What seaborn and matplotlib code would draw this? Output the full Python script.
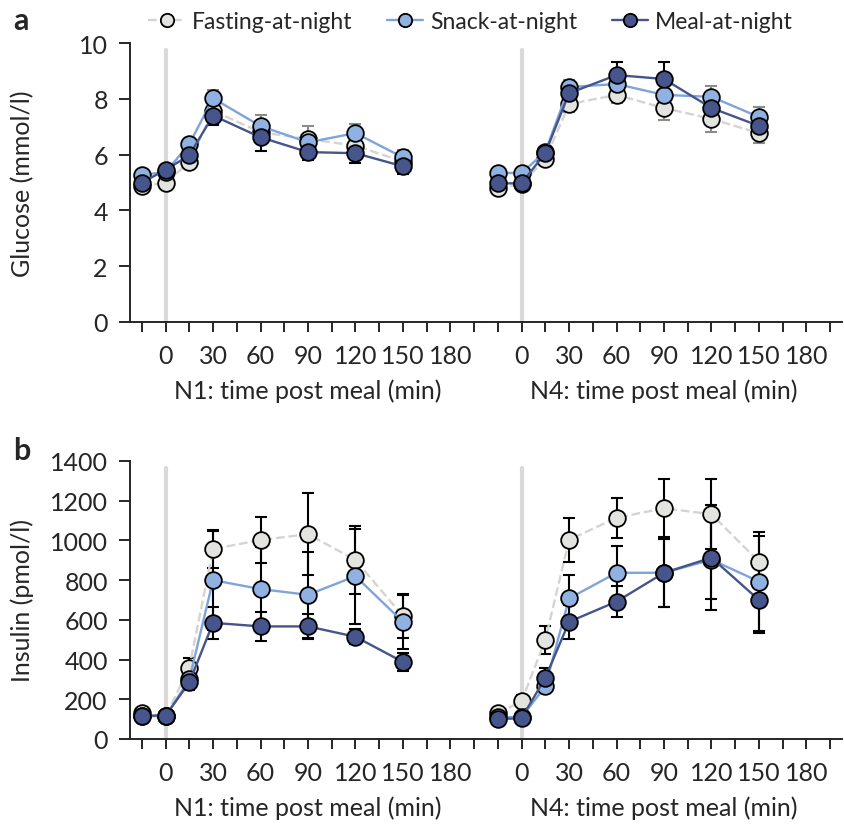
import numpy as np
import pandas as pd
import matplotlib
matplotlib.use('Agg')
from matplotlib import pyplot as plt
import seaborn as sns

# Zaman noktaları (dk)
time_points = [-15, 0, 15, 30, 60, 90, 120, 150]
group_names = ['Fasting-at-night', 'Snack-at-night', 'Meal-at-night']

# Glukoz (mmol/l) - N1
glc_n1_fasting = [4.87, 5.0, 5.73, 7.57, 6.8, 6.56, 6.32, 5.75]
glc_n1_snack = [5.28, 5.37, 6.38, 8.02, 7.02, 6.44, 6.77, 5.9]
glc_n1_meal = [5.0, 5.45, 5.98, 7.4, 6.62, 6.09, 6.05, 5.58]
glc_n1_fasting_sem = [0.1, 0.1, 0.15, 0.3, 0.3, 0.45, 0.35, 0.3]
glc_n1_snack_sem = [0.1, 0.1, 0.15, 0.28, 0.4, 0.3, 0.33, 0.25]
glc_n1_meal_sem = [0.1, 0.1, 0.15, 0.35, 0.48, 0.27, 0.35, 0.28]

# Glukoz (mmol/l) - N4
glc_n4_fasting = [4.8, 4.95, 5.84, 7.81, 8.14, 7.67, 7.28, 6.77]
glc_n4_snack = [5.34, 5.34, 6.1, 8.42, 8.53, 8.14, 8.07, 7.35]
glc_n4_meal = [4.97, 4.97, 6.06, 8.2, 8.85, 8.71, 7.67, 7.03]
glc_n4_fasting_sem = [0.1, 0.1, 0.15, 0.3, 0.3, 0.43, 0.48, 0.36]
glc_n4_snack_sem = [0.1, 0.1, 0.15, 0.25, 0.3, 0.35, 0.4, 0.36]
glc_n4_meal_sem = [0.1, 0.1, 0.15, 0.3, 0.47, 0.6, 0.4, 0.3]

# İnsülin (pmol/l) - N1
ins_n1_fasting = [130, 115, 360, 957, 1002, 1032, 901, 619]
ins_n1_snack = [115, 115, 300, 800, 755, 726, 820, 590]
ins_n1_meal = [118, 118, 285, 585, 567, 567, 515, 388]
ins_n1_fasting_sem = [15, 12, 50, 95, 116, 207, 170, 110]
ins_n1_snack_sem = [12, 12, 40, 250, 210, 215, 240, 136]
ins_n1_meal_sem = [12, 12, 40, 80, 72, 65, 37, 45]

# İnsülin (pmol/l) - N4
ins_n4_fasting = [130, 190, 500, 1003, 1114, 1162, 1132, 893]
ins_n4_snack = [110, 110, 265, 708, 837, 837, 903, 793]
ins_n4_meal = [100, 105, 308, 590, 692, 837, 913, 700]
ins_n4_fasting_sem = [15, 30, 70, 110, 100, 147, 177, 130]
ins_n4_snack_sem = [10, 10, 35, 117, 136, 170, 200, 248]
ins_n4_meal_sem = [10, 10, 49, 87, 80, 170, 263, 167]

x_ticks = list(range(-15, 200, 15))
x_labels = ['' if (t < 0 or t % 30) else str(t) for t in x_ticks]

line_colors = ['#d4d4d0', '#7ea4da', '#45558a']
fill_colors = ['#e3e3df', '#8fb2e2', '#46568c']
line_styles = ['--', '-', '-']

sns.set_style('white')
plt.rcParams['font.family'] = ['Lato', 'DejaVu Sans']
plt.rcParams['font.size'] = 18

fig = plt.figure(figsize=(8.45, 8.28), dpi=100)
left, mid, right = 130 / 845, 486 / 845, 842 / 845
rows = [(1 - 323 / 828, 1 - 44 / 828), (1 - 740 / 828, 1 - 462 / 828)]


def draw_panel(ax, means, sems, ecolors):
    for i in range(3):
        ax.errorbar(time_points, means[i], yerr=sems[i], fmt='none', ecolor=ecolors[i],
                    elinewidth=1.5, capsize=4, capthick=1.5, zorder=2)
    for i in range(3):
        sns.lineplot(x=time_points, y=means[i], ax=ax, color=line_colors[i], linestyle=line_styles[i],
                     linewidth=1.7, marker='o', markersize=12, markerfacecolor=fill_colors[i],
                     markeredgecolor='black', markeredgewidth=1.3, errorbar=None,
                     label=group_names[i], zorder=3 + i)
    ax.axvline(0, ymin=0, ymax=0.975, color='#d9d9d9', linewidth=3, zorder=1)
    ax.set_xlim(-22.5, 202.5)
    ax.set_xticks(x_ticks)
    ax.set_xticklabels(x_labels)
    ax.tick_params(axis='x', direction='out', length=7, width=1.4, pad=9, bottom=True, labelsize=18)
    sns.despine(ax=ax, top=True, right=True)
    ax.spines['bottom'].set_linewidth(1.4)
    ax.spines['left'].set_linewidth(1.4)
    ax.legend().remove()


panels = [
    (rows[0], [glc_n1_fasting, glc_n1_snack, glc_n1_meal], [glc_n1_fasting_sem, glc_n1_snack_sem, glc_n1_meal_sem],
     [glc_n4_fasting, glc_n4_snack, glc_n4_meal], [glc_n4_fasting_sem, glc_n4_snack_sem, glc_n4_meal_sem],
     (0, 10), [0, 2, 4, 6, 8, 10], 'Glucose (mmol/l)', ['#8c8c8c', '#8c8c8c', 'black']),
    (rows[1], [ins_n1_fasting, ins_n1_snack, ins_n1_meal], [ins_n1_fasting_sem, ins_n1_snack_sem, ins_n1_meal_sem],
     [ins_n4_fasting, ins_n4_snack, ins_n4_meal], [ins_n4_fasting_sem, ins_n4_snack_sem, ins_n4_meal_sem],
     (0, 1400), list(range(0, 1401, 200)), 'Insulin (pmol/l)', ['black', 'black', 'black']),
]

for (bottom, top), m1, s1, m4, s4, ylim, yticks, ylabel, ecol in panels:
    ax1 = fig.add_axes([left, bottom, mid - left, top - bottom])
    ax2 = fig.add_axes([mid, bottom, right - mid, top - bottom])
    draw_panel(ax1, m1, s1, ecol)
    draw_panel(ax2, m4, s4, ecol)
    for ax in (ax1, ax2):
        ax.set_ylim(*ylim)
    ax1.set_yticks(yticks)
    ax1.tick_params(axis='y', direction='out', length=8, width=1.4, pad=8, left=True, labelsize=18)
    ax1.set_ylabel(ylabel)
    ax1.yaxis.set_label_coords(-0.27, 0.5)
    ax2.set_yticks([])
    ax2.spines['left'].set_visible(False)
    ax1.set_xlabel('N1: time post meal (min)', labelpad=8)
    ax2.set_xlabel('N4: time post meal (min)', labelpad=8)

handles, labels = ax1.get_legend_handles_labels()
fig.legend(handles, labels, loc='center', bbox_to_anchor=(0.557, 0.973), ncol=3, frameon=False,
           handlelength=1.6, handletextpad=0.3, columnspacing=1.5, markerscale=0.8, fontsize=16.5)

fig.text(0.016, 0.975, 'a', fontsize=22, fontweight='bold', va='center')
fig.text(0.016, 0.455, 'b', fontsize=22, fontweight='bold', va='center')

fig.savefig('out.png', dpi=100)
